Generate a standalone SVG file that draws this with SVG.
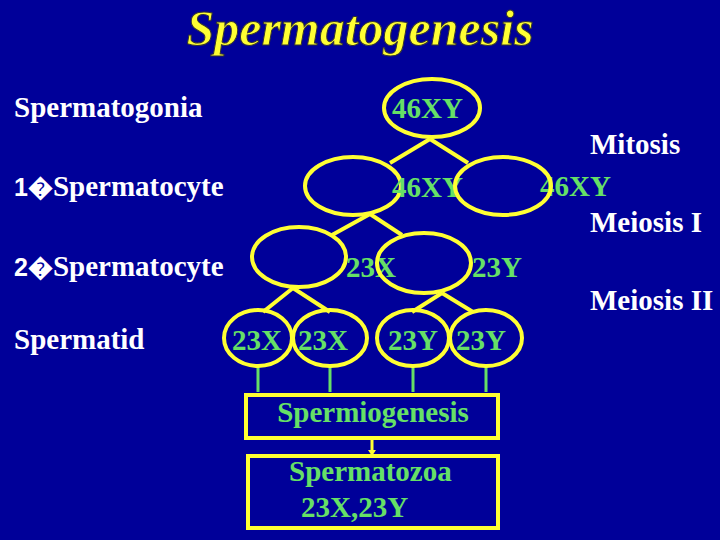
<svg xmlns="http://www.w3.org/2000/svg" width="720" height="540" viewBox="0 0 720 540">
<style>
.w{font-family:"Liberation Serif",serif;font-weight:bold;font-size:29px;fill:#fff}
.g{font-family:"Liberation Serif",serif;font-weight:bold;font-size:29px;fill:#66e066}
.a{font-family:"Liberation Sans",sans-serif;font-weight:bold;font-size:25px}
.e{fill:none;stroke:#ffff33;stroke-width:4}
.l{stroke:#ffff33;stroke-width:4}
.v{stroke:#66e066;stroke-width:3}
</style>
<rect width="720" height="540" fill="#000099"/>
<text x="360" y="45" text-anchor="middle" font-family="Liberation Serif,serif" font-style="italic" font-weight="bold" font-size="50" fill="#ffff33" stroke="#333" stroke-width="1">Spermatogenesis</text>
<g id="labels">
<text class="w" x="14" y="117">Spermatogonia</text>
<text class="w" x="14" y="196"><tspan class="a">1�</tspan>Spermatocyte</text>
<text class="w" x="14" y="276"><tspan class="a">2�</tspan>Spermatocyte</text>
<text class="w" x="14" y="349">Spermatid</text>
<text class="w" x="590" y="154">Mitosis</text>
<text class="g" x="540" y="196">46XY</text>
<text class="w" x="590" y="232">Meiosis I</text>
<text class="w" x="590" y="310">Meiosis II</text>
</g>
<g id="connectors">
<line class="l" x1="430" y1="139" x2="390" y2="163"/>
<line class="l" x1="430" y1="139" x2="468" y2="163"/>
<line class="l" x1="370" y1="214" x2="332" y2="235"/>
<line class="l" x1="370" y1="214" x2="402" y2="235"/>
<line class="l" x1="293" y1="288" x2="263" y2="312"/>
<line class="l" x1="293" y1="288" x2="330" y2="312"/>
<line class="l" x1="442" y1="293" x2="412" y2="312"/>
<line class="l" x1="442" y1="293" x2="473" y2="312"/>
<line class="v" x1="258" y1="367" x2="258" y2="392"/>
<line class="v" x1="330" y1="367" x2="330" y2="392"/>
<line class="v" x1="413" y1="367" x2="413" y2="392"/>
<line class="v" x1="486" y1="367" x2="486" y2="392"/>
<line stroke="#ffff33" stroke-width="3" x1="372" y1="438" x2="372" y2="452"/>
<path d="M368,450 L376,450 L372,456 Z" fill="#ffff33"/>
</g>
<g id="n0"><ellipse class="e" cx="432" cy="108" rx="48" ry="29"/><text class="g" x="392" y="118">46XY</text></g>
<g id="n1"><ellipse class="e" cx="353" cy="186" rx="48" ry="29"/><text class="g" x="392" y="197">46XY</text></g>
<g id="n2"><ellipse class="e" cx="503" cy="186" rx="48" ry="29"/></g>
<g id="n3"><ellipse class="e" cx="299" cy="257" rx="47" ry="30"/><text class="g" x="346" y="277">23X</text></g>
<g id="n4"><ellipse class="e" cx="424" cy="263" rx="47" ry="30"/><text class="g" x="472" y="277">23Y</text></g>
<g id="n5"><ellipse class="e" cx="258" cy="338" rx="34" ry="28"/><text class="g" x="232" y="350">23X</text></g>
<g id="n6"><ellipse class="e" cx="330" cy="338" rx="37" ry="28"/><text class="g" x="298" y="350">23X</text></g>
<g id="n7"><ellipse class="e" cx="413" cy="338" rx="36" ry="28"/><text class="g" x="388" y="350">23Y</text></g>
<g id="n8"><ellipse class="e" cx="486" cy="338" rx="36" ry="28"/><text class="g" x="456" y="350">23Y</text></g>
<g id="box1"><rect x="246" y="395" width="252" height="43" fill="none" stroke="#ffff33" stroke-width="4"/><text class="g" x="373" y="422" text-anchor="middle">Spermiogenesis</text></g>
<g id="box2"><rect x="248" y="456" width="250" height="72" fill="none" stroke="#ffff33" stroke-width="4"/><text class="g" x="289" y="481">Spermatozoa</text><text class="g" x="301" y="517">23X,23Y</text></g>
</svg>
